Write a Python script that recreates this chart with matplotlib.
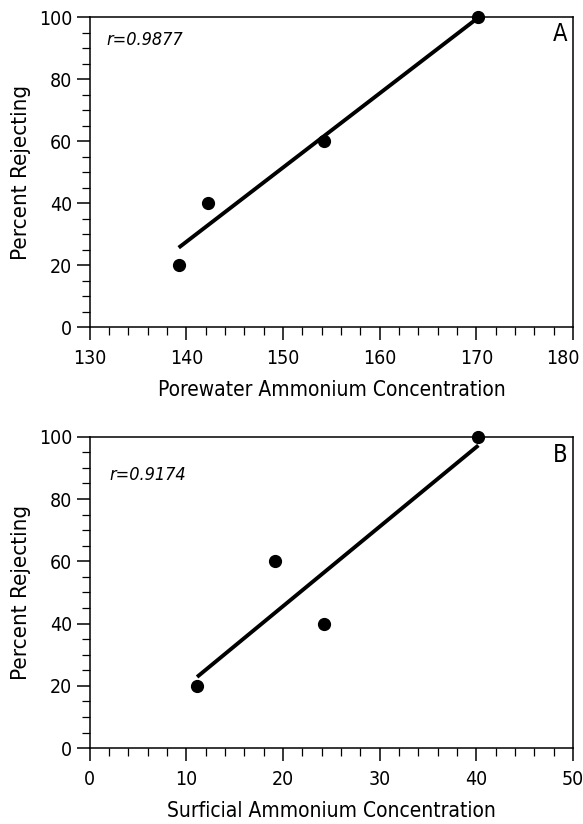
import matplotlib
matplotlib.use("Agg")
import matplotlib.pyplot as plt
import numpy as np
from matplotlib.ticker import MultipleLocator, FuncFormatter

plt.rcParams['font.family'] = ['DejaVu Sans']
plt.rcParams['font.stretch'] = 'condensed'

# panel A: porewater
pore_x = [139.2, 142.2, 154.2, 170.2]
pore_y = [20, 40, 60, 100]
# panel B: surficial
surf_x = [11.1, 19.2, 24.2, 40.2]
surf_y = [20, 60, 40, 100]

panels = [
    (pore_x, pore_y, (130, 180), "Porewater Ammonium Concentration", "r=0.9877", "A"),
    (surf_x, surf_y, (0, 50), "Surficial Ammonium Concentration", "r=0.9174", "B"),
]
positions = [[0.154, 0.603, 0.829, 0.376], [0.154, 0.092, 0.829, 0.378]]
r_pos = [(0.035, 0.927), (0.041, 0.878)]
tag_y = [0.947, 0.942]
# the 3-digit end label of panel A would run off the figure edge
nudge_last = [True, False]

TICK_LEN = 9.5
TICK_PAD = 6

fig = plt.figure(figsize=(5.83, 8.24), dpi=100)

for i, ((x, y, xlim, xlabel, rtext, tag), pos) in enumerate(zip(panels, positions)):
    ax = fig.add_axes(pos)
    x = np.array(x)
    y = np.array(y)
    fit = np.polyfit(x, y, 1)
    fit_fn = np.poly1d(fit)
    xs = np.array([x.min(), x.max()])
    ax.plot(xs, fit_fn(xs), '-k', lw=2.8, solid_capstyle='butt')
    ax.plot(x, y, 'ko', ms=8.5, clip_on=False, zorder=5)

    ax.set_xlim(*xlim)
    ax.set_ylim(0, 100)
    ax.xaxis.set_major_locator(MultipleLocator(10))
    ax.xaxis.set_minor_locator(MultipleLocator(2))
    ax.yaxis.set_major_locator(MultipleLocator(20))
    ax.yaxis.set_minor_locator(MultipleLocator(5))
    ax.tick_params(which='major', direction='out', length=TICK_LEN, width=1.1, labelsize=14)
    ax.tick_params(axis='x', which='major', pad=TICK_PAD)
    ax.tick_params(axis='y', which='major', pad=3)
    ax.tick_params(which='minor', direction='out', length=6, width=0.9)
    for s in ax.spines.values():
        s.set_linewidth(1.1)

    if nudge_last[i]:
        xmax = xlim[1]
        ax.xaxis.set_major_formatter(
            FuncFormatter(lambda v, p, xmax=xmax: "" if abs(v - xmax) < 1e-6 else "%g" % v))
        ax.annotate("%g" % xmax, xy=(xmax, 0), xycoords=('data', 'axes fraction'),
                    xytext=(-7, -(TICK_LEN + TICK_PAD)), textcoords='offset points',
                    ha='center', va='top', fontsize=14, annotation_clip=False)

    ax.set_xlabel(xlabel, fontsize=15, labelpad=9)
    ax.set_ylabel("Percent Rejecting", fontsize=16, labelpad=6)
    ax.text(r_pos[i][0], r_pos[i][1], rtext, transform=ax.transAxes, fontsize=13,
            style='italic', va='center', ha='left')
    ax.text(0.988, tag_y[i], tag, transform=ax.transAxes, fontsize=17,
            va='center', ha='right')

fig.savefig("out.png", dpi=100)
